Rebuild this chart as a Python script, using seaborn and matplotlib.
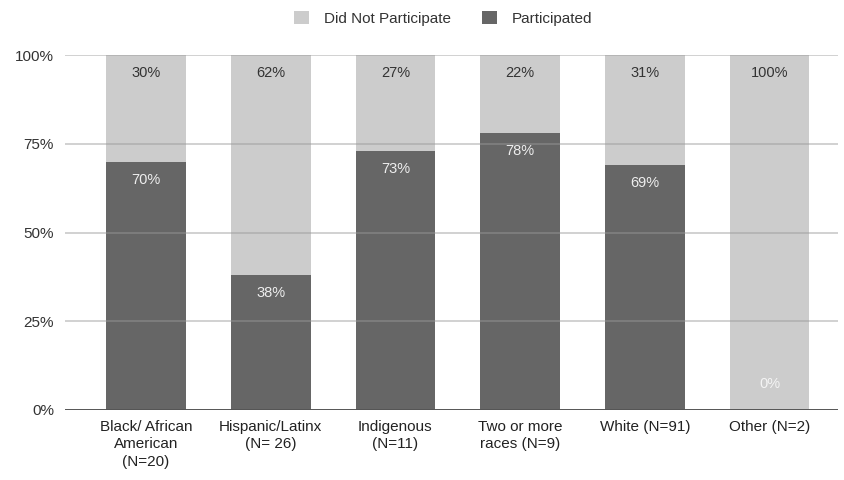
import matplotlib
matplotlib.use("Agg")
import matplotlib.pyplot as plt
import seaborn as sns
import pandas as pd
from matplotlib.patches import Patch

categories = ["Black/ African\nAmerican\n(N=20)", "Hispanic/Latinx\n(N= 26)", "Indigenous\n(N=11)",
              "Two or more\nraces (N=9)", "White (N=91)", "Other (N=2)"]
participated = [70, 38, 73, 78, 69, 0]
did_not = [30, 62, 27, 22, 31, 100]

LIGHT = "#cccccc"
DARK = "#666666"

sns.set_theme(style="white")
plt.rcParams["font.family"] = ["Liberation Sans", "DejaVu Sans"]

df = pd.DataFrame({"group": categories, "participated": participated, "did_not": did_not})
df["total"] = df["participated"] + df["did_not"]

fig = plt.figure(figsize=(8.44, 4.8), dpi=100)
ax = fig.add_axes([0.077, 0.146, 0.916, 0.739])

sns.barplot(data=df, x="group", y="total", color=LIGHT, width=0.64, saturation=1,
            linewidth=0, ax=ax, zorder=2)
sns.barplot(data=df, x="group", y="participated", color=DARK, width=0.64, saturation=1,
            linewidth=0, ax=ax, zorder=2)

ax.set_ylim(0, 100)
ax.set_xlim(-0.65, 5.55)
ax.set_yticks([0, 25, 50, 75, 100])
ax.set_yticklabels(["0%", "25%", "50%", "75%", "100%"], fontsize=11, color="#333333")
ax.tick_params(axis="x", labelsize=11, colors="#222222", length=0, pad=7)
ax.tick_params(axis="y", length=0, pad=8)
for lbl in ax.get_xticklabels():
    lbl.set_linespacing(1.35)
ax.set_xlabel("")
ax.set_ylabel("")
for s in ax.spines.values():
    s.set_visible(False)

# gridlines drawn above the bars, faint
for yv in [25, 50, 75, 100]:
    ax.axhline(yv, color="#999999", alpha=0.45, lw=1.4, zorder=3)
ax.axhline(0, color="#555555", lw=1.4, zorder=4)

for i, (p, d) in enumerate(zip(participated, did_not)):
    top = p + d
    ax.annotate(f"{d}%", (i, top), xytext=(0, -13), textcoords="offset points",
                ha="center", va="center", fontsize=10.5, color="#333333", zorder=5)
    if p > 0:
        ax.annotate(f"{p}%", (i, p), xytext=(0, -13), textcoords="offset points",
                    ha="center", va="center", fontsize=10.5, color="#eeeeee", zorder=5)
    else:
        ax.annotate(f"{p}%", (i, 0), xytext=(0, 19), textcoords="offset points",
                    ha="center", va="center", fontsize=10.5, color="#f4f4f4", zorder=5)

handles = [Patch(facecolor=LIGHT, edgecolor="none", label="Did Not Participate"),
           Patch(facecolor=DARK, edgecolor="none", label="Participated")]
fig.legend(handles=handles, loc="center", bbox_to_anchor=(0.525, 0.962), ncol=2, frameon=False,
           fontsize=11, handlelength=1.0, handleheight=1.0, columnspacing=2.0, handletextpad=1.0,
           labelcolor="#333333")

fig.savefig("out.png", dpi=100, facecolor="white")
